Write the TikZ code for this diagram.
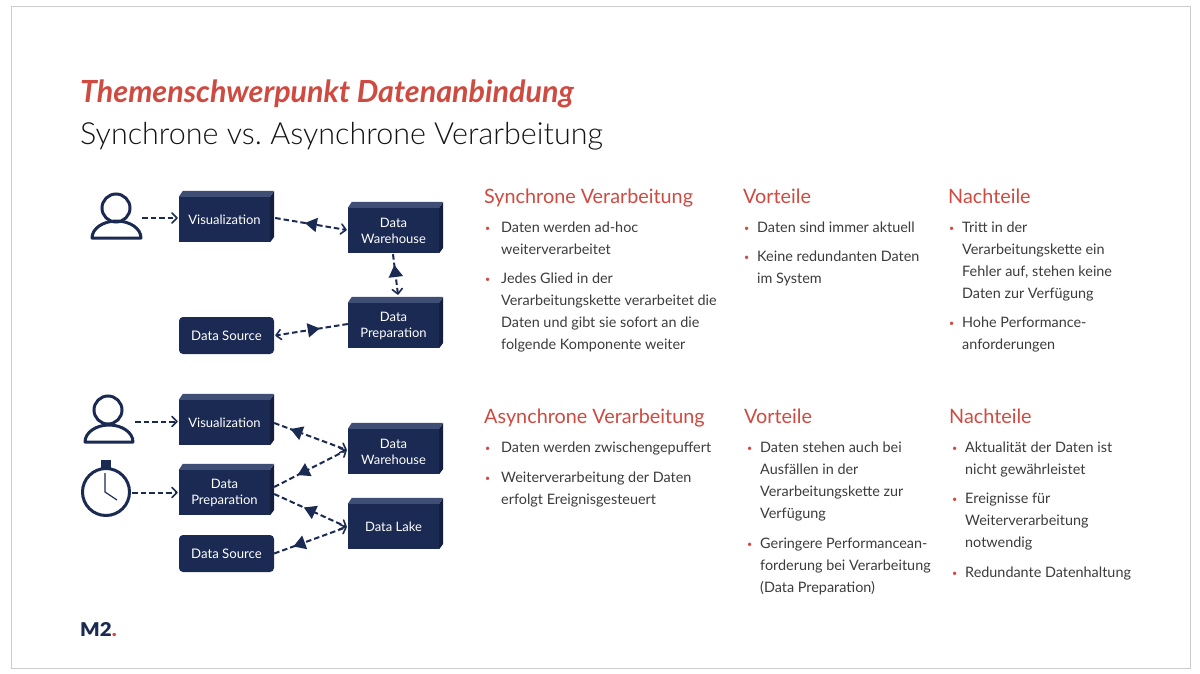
\documentclass[tikz,border=0pt]{standalone}
\usepackage{fontspec}
\setmainfont{Lato}
\newfontfamily\lightfont[UprightFont=* Light]{Lato}
\newfontfamily\blackfont[UprightFont=* Black]{Lato}
\usetikzlibrary{arrows.meta,decorations.markings}
\definecolor{navy}{HTML}{1B2A52}
\definecolor{navytop}{HTML}{3F4E74}
\definecolor{navyside}{HTML}{141F3F}
\definecolor{hred}{HTML}{CF4A40}
\definecolor{body}{HTML}{3C3C3C}
\frenchspacing
\tikzset{
 cub/.style={fill=navy,text=white,minimum width=91pt,minimum height=45pt,inner sep=0pt,align=center,font=\fontsize{13}{16}\selectfont},
 src/.style={fill=navy,text=white,rounded corners=4pt,minimum width=95pt,minimum height=37pt,inner sep=0pt,font=\fontsize{13.2}{16}\selectfont},
 flow/.style={draw=navy,line width=2pt,dash pattern=on 5.5pt off 3pt,-{Straight Barb[length=5pt,width=10pt,line width=1.6pt,round]},
   postaction={decorate,draw=none},
   decoration={markings,mark=at position #1 with {\arrow[navy,solid]{Triangle[length=12pt,width=14pt,reversed]}}}},
 plain/.style={draw=navy,line width=2pt,dash pattern=on 5.5pt off 3pt,-{Straight Barb[length=5pt,width=10pt,line width=1.6pt,round]}},
 icon/.style={draw=navy,line width=3pt},
 head/.style={anchor=base west,inner sep=0pt,text=hred,font=\fontsize{19.8}{22}\selectfont},
 txt/.style={anchor=north west,inner sep=0pt,align=left,text=body,font=\fontsize{14.4}{22}\selectfont},
 bul/.style={anchor=north west,inner sep=0pt,text=hred,font=\fontsize{14.4}{22}\selectfont}
}
\newcommand{\cubfaces}[1]{%
 \fill[navytop] (#1.north west) -- ++(4,-6) -- ++(91,0) -- (#1.north east) -- cycle;
 \fill[navyside] (#1.north east) -- ++(4,-6) -- ++(0,46) -- (#1.south east) -- cycle;}
\newcommand{\itm}[5]{% name, bullet x, text x, top y, text
 \node[bul] (#1b) at (#2,#4+1) {\strut\fontsize{9}{22}\selectfont\raisebox{1.5pt}{•}};
 \node[txt] (#1) at (#3,#4+1) {\strut #5};}
\begin{document}
\begin{tikzpicture}[x=1pt,y=-1pt]
\useasboundingbox (0,0) rectangle (1200,674);
\fill[white] (0,0) rectangle (1200,674);
\draw[draw=black!20,line width=1pt] (11,7) rectangle (1190,668);
% titles
\node[anchor=base west,inner sep=0pt,text=hred,font=\fontsize{30.5}{34}\selectfont\bfseries\itshape] (title) at (80,103) {Themenschwerpunkt Datenanbindung};
\node[anchor=base west,inner sep=0pt,text=black!92,font=\fontsize{30.5}{34}\lightfont] (sub) at (80,145) {Synchrone vs. Asynchrone Verarbeitung};
% upper diagram
\node[cub] (v1) at (224.5,219.5) {Visualization};
\cubfaces{v1}
\node[cub] (wh1) at (393.5,230.5) {Data\\Warehouse};
\cubfaces{wh1}
\node[cub] (pr1) at (393.5,325.5) {Data\\Preparation};
\cubfaces{pr1}
\node[src] (ds1) at (226.5,335.5) {Data Source};
\node[circle,icon,minimum size=28pt,inner sep=0pt] (p1h) at (116,208) {};
\draw[icon,line join=round] (92,238) arc[start angle=180,end angle=360,x radius=24.5,y radius=17] -- cycle;
\coordinate (p1a) at (142,218);
\draw[plain] (p1a) -- ([shift={(-1,-1.5)}]v1.west);
\draw[flow=.58] ([shift={(5,-1.5)}]v1.east) -- ([shift={(-1,-.5)}]wh1.west);
\draw[flow=.56] ([shift={(-.5,1)}]wh1.south) -- ([shift={(4.5,-8)}]pr1.north);
\draw[flow=.55] ([shift={(0,-1.5)}]pr1.west) -- ([shift={(1,0)}]ds1.east);
% lower diagram
\node[cub] (v2) at (224.5,422.5) {Visualization};
\cubfaces{v2}
\node[cub] (wh2) at (393.5,451.5) {Data\\Warehouse};
\cubfaces{wh2}
\node[cub] (pr2) at (224.5,492.5) {Data\\Preparation};
\cubfaces{pr2}
\node[cub] (lake) at (393.5,526.5) {Data Lake};
\cubfaces{lake}
\node[src] (ds2) at (226.5,553.5) {Data Source};
\node[circle,icon,minimum size=28pt,inner sep=0pt] (p2h) at (108,410) {};
\draw[icon,line join=round] (85,442) arc[start angle=180,end angle=360,x radius=24,y radius=17] -- cycle;
\coordinate (p2a) at (135,421.5);
\node[circle,icon,minimum size=47pt,inner sep=0pt] (clk) at (106,492) {};
\fill[navy] (101,460) rectangle (111,468);
\draw[navy,line width=1.2pt] (105,473) -- (105,492) -- (117,500);
\coordinate (clka) at (132,492.5);
\draw[plain] (p2a) -- ([shift={(-1,-1)}]v2.west);
\draw[plain] (clka) -- ([shift={(-1,0)}]pr2.west);
\draw[flow=.38] ([shift={(4,.5)}]v2.east) -- ([shift={(-1,-1.5)}]wh2.west);
\draw[flow=.47] ([shift={(4,-5.5)}]pr2.east) -- ([shift={(-1,-1.5)}]wh2.west);
\draw[flow=.56] ([shift={(4,1.5)}]pr2.east) -- ([shift={(-1,.5)}]lake.west);
\draw[flow=.42] (ds2.east) -- ([shift={(-1,.5)}]lake.west);
% upper text
\node[head] (h1) at (484,203.5) {Synchrone Verarbeitung};
\node[head] (h2) at (743,203.5) {Vorteile};
\node[head] (h3) at (948,203.5) {Nachteile};
\itm{a1}{485}{501}{216}{Daten werden ad-hoc\\weiterverarbeitet}
\itm{a2}{485}{501}{267}{Jedes Glied in der\\Verarbeitungskette verarbeitet die\\Daten und gibt sie sofort an die\\folgende Komponente weiter}
\itm{b1}{744}{757}{216}{Daten sind immer aktuell}
\itm{b2}{744}{757}{245}{Keine redundanten Daten\\im System}
\itm{c1}{949}{962}{216}{Tritt in der\\Verarbeitungskette ein\\Fehler auf, stehen keine\\Daten zur Verfügung}
\itm{c2}{949}{962}{311}{Hohe Performance-\\anforderungen}
% lower text
\node[head] (h4) at (484,423.5) {Asynchrone Verarbeitung};
\node[head] (h5) at (744,423.5) {Vorteile};
\node[head] (h6) at (949,423.5) {Nachteile};
\itm{d1}{485}{501}{436}{Daten werden zwischengepuffert}
\itm{d2}{485}{501}{466}{Weiterverarbeitung der Daten\\erfolgt Ereignisgesteuert}
\itm{e1}{747}{760}{436}{Daten stehen auch bei\\Ausfällen in der\\Verarbeitungskette zur\\Verfügung}
\itm{e2}{747}{760}{532}{Geringere Performancean-\\forderung bei Verarbeitung\\(Data Preparation)}
\itm{f1}{952}{965}{436}{Aktualität der Daten ist\\nicht gewährleistet}
\itm{f2}{952}{965}{487}{Ereignisse für\\Weiterverarbeitung\\notwendig}
\itm{f3}{952}{965}{561}{Redundante Datenhaltung}
% logo
\node[anchor=base west,inner sep=0pt,text=navy,font=\fontsize{19}{20}\blackfont,xscale=1.08] (logo) at (80,636.5) {M2\textcolor{hred}{.}};
\end{tikzpicture}
\end{document}
